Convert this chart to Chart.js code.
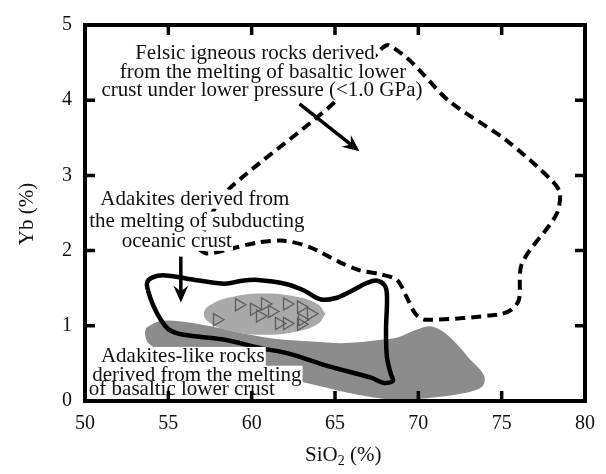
<!DOCTYPE html>
<html lang="en">
<head>
<meta charset="UTF-8">
<title>Yb vs SiO2</title>
<script src="https://cdn.jsdelivr.net/npm/chart.js"></script>
<style>
  html, body { margin: 0; padding: 0; background: #fff; }
  canvas { display: block; }
</style>
</head>
<body>
<canvas id="grafico" width="606" height="474"></canvas>
<script>
// axis ticks
const xTicks = [50, 55, 60, 65, 70, 75, 80];
const yTicks = [0, 1, 2, 3, 4, 5];

// felsic rocks from low-pressure melting of basaltic lower crust (dashed field)
const felsicX = [56.78, 57.56, 58.64, 65.06, 67.82, 68.24, 69.62, 71.84, 75.26, 78.02, 78.50, 78.26, 76.22, 76.04, 75.62, 74.84, 70.46, 69.86, 69.26, 68.72, 67.82, 66.44, 65.42, 63.44, 61.94, 60.44, 58.64, 57.38, 56.84, 56.78];
const felsicY = [2.06, 2.47, 2.82, 3.99, 4.69, 4.73, 4.50, 3.99, 3.47, 2.93, 2.76, 2.47, 1.83, 1.35, 1.22, 1.15, 1.08, 1.15, 1.40, 1.61, 1.68, 1.74, 1.83, 2.05, 2.13, 2.11, 2.02, 1.96, 2.02, 2.06];

// adakites from subducting oceanic crust (solid field)
const oceanicX = [53.78, 53.72, 54.02, 54.80, 56.60, 58.40, 59.42, 60.38, 62.00, 63.14, 64.16, 65.06, 65.96, 66.92, 67.52, 68.00, 68.12, 68.06, 68.12, 68.36, 68.48, 67.94, 67.16, 64.64, 62.24, 60.62, 58.22, 55.94, 55.04, 54.44, 54.02, 53.78];
const oceanicY = [1.47, 1.57, 1.64, 1.67, 1.61, 1.56, 1.60, 1.61, 1.56, 1.47, 1.35, 1.37, 1.46, 1.57, 1.60, 1.53, 1.38, 0.93, 0.58, 0.35, 0.27, 0.24, 0.31, 0.46, 0.63, 0.70, 0.82, 0.88, 0.95, 1.12, 1.31, 1.47];

// adakite-like rocks from basaltic lower crust (dark grey field)
const lowerX = [53.66, 54.44, 55.64, 57.62, 59.66, 61.64, 63.62, 65.66, 67.64, 68.84, 69.92, 70.82, 71.84, 73.04, 73.94, 73.82, 72.62, 70.64, 68.84, 66.44, 63.86, 61.64, 58.04, 55.04, 53.84, 53.60, 53.66];
const lowerY = [0.97, 1.06, 1.06, 0.99, 0.89, 0.82, 0.79, 0.77, 0.81, 0.85, 0.95, 0.99, 0.86, 0.57, 0.34, 0.19, 0.10, 0.04, 0.01, 0.08, 0.21, 0.32, 0.45, 0.61, 0.76, 0.89, 0.97];

// field around the samples (light grey)
const sampleFieldX = [64.43, 63.94, 62.61, 60.78, 58.95, 57.62, 57.13, 57.62, 58.95, 60.78, 62.61, 63.94, 64.43];
const sampleFieldY = [1.16, 1.29, 1.39, 1.43, 1.39, 1.29, 1.16, 1.02, 0.92, 0.88, 0.92, 1.02, 1.16];

// samples
const sampleX = [57.92, 59.24, 60.14, 60.80, 60.50, 61.22, 62.12, 62.96, 63.56, 61.64, 62.12, 62.96, 63.02];
const sampleY = [1.08, 1.28, 1.22, 1.29, 1.13, 1.19, 1.29, 1.25, 1.16, 1.03, 1.03, 1.02, 1.08];

const pts = (xs, ys) => xs.map((x, i) => ({x: x, y: ys[i]}));

const serif = '"Liberation Serif", "Times New Roman", serif';

// labels: text lines, centre x in data units, baseline y in data units
const notas = [
  {t: 'Felsic igneous rocks derived', x: 60.20, y: 4.55},
  {t: 'from the melting of basaltic lower', x: 60.68, y: 4.30},
  {t: 'crust under lower pressure (<1.0 GPa)', x: 60.62, y: 4.05},
  {t: 'Adakites derived from', x: 56.59, y: 2.61},
  {t: 'the melting of subducting', x: 56.71, y: 2.32},
  {t: 'oceanic crust', x: 55.51, y: 2.05},
  {t: 'Adakites-like rocks', x: 55.87, y: 0.52},
  {t: 'derived from the melting', x: 56.71, y: 0.27},
  {t: 'of basaltic lower crust', x: 55.81, y: 0.08}
];

// arrows: [x1, y1, x2, y2]
const setas = [
  [62.87, 3.95, 66.47, 3.32],
  [55.75, 1.92, 55.75, 1.31]
];

function seta(ctx, x1, y1, x2, y2) {
  const ang = Math.atan2(y2 - y1, x2 - x1);
  const comp = Math.hypot(x2 - x1, y2 - y1);
  ctx.save();
  ctx.translate(x2, y2);
  ctx.rotate(ang);
  ctx.strokeStyle = '#000';
  ctx.fillStyle = '#000';
  ctx.lineWidth = 3.5;
  ctx.beginPath();
  ctx.moveTo(-comp, 0);
  ctx.lineTo(-10, 0);
  ctx.stroke();
  ctx.beginPath();
  ctx.moveTo(0, 0);
  ctx.lineTo(-17, -7.5);
  ctx.lineTo(-11, 0);
  ctx.lineTo(-17, 7.5);
  ctx.closePath();
  ctx.fill();
  ctx.restore();
}

const moldura = {
  id: 'moldura',
  afterDraw(chart) {
    const ctx = chart.ctx;
    const a = chart.chartArea;
    const sx = chart.scales.x, sy = chart.scales.y;
    ctx.save();

    // text with white boxes behind each line
    ctx.font = '21px ' + serif;
    ctx.textAlign = 'center';
    ctx.textBaseline = 'alphabetic';
    notas.forEach(n => {
      const px = sx.getPixelForValue(n.x), py = sy.getPixelForValue(n.y);
      const w = ctx.measureText(n.t).width;
      ctx.fillStyle = '#fff';
      ctx.fillRect(px - w / 2 - 1, py - 15, w + 2, 19);
    });
    notas.forEach(n => {
      ctx.fillStyle = '#111';
      ctx.fillText(n.t, sx.getPixelForValue(n.x), sy.getPixelForValue(n.y));
    });

    setas.forEach(s => seta(ctx, sx.getPixelForValue(s[0]), sy.getPixelForValue(s[1]),
                                sx.getPixelForValue(s[2]), sy.getPixelForValue(s[3])));

    // frame
    ctx.strokeStyle = '#000';
    ctx.lineWidth = 4;
    ctx.strokeRect(a.left, a.top, a.right - a.left, a.bottom - a.top);

    // inward ticks on all four sides
    ctx.lineWidth = 3.5;
    ctx.beginPath();
    xTicks.slice(1, -1).forEach(v => {
      const px = sx.getPixelForValue(v);
      ctx.moveTo(px, a.bottom); ctx.lineTo(px, a.bottom - 10);
      ctx.moveTo(px, a.top); ctx.lineTo(px, a.top + 10);
    });
    yTicks.slice(1, -1).forEach(v => {
      const py = sy.getPixelForValue(v);
      ctx.moveTo(a.left, py); ctx.lineTo(a.left + 10, py);
      ctx.moveTo(a.right, py); ctx.lineTo(a.right - 10, py);
    });
    ctx.stroke();

    // axis titles
    ctx.fillStyle = '#111';
    ctx.font = '21px ' + serif;
    ctx.textAlign = 'left';
    const x0 = 305, yb = 461;
    ctx.fillText('SiO', x0, yb);
    let w = ctx.measureText('SiO').width;
    ctx.font = '14px ' + serif;
    ctx.fillText('2', x0 + w, yb + 4);
    w += ctx.measureText('2').width;
    ctx.font = '21px ' + serif;
    ctx.fillText(' (%)', x0 + w, yb);

    ctx.translate(33, 214);
    ctx.rotate(-Math.PI / 2);
    ctx.textAlign = 'center';
    ctx.fillText('Yb (%)', 0, 0);
    ctx.restore();
  }
};

const fonteEixo = {family: serif, size: 20};

new Chart(document.getElementById('grafico'), {
  type: 'scatter',
  data: {
    datasets: [
      {
        label: 'Samples',
        data: pts(sampleX, sampleY),
        pointStyle: 'triangle',
        rotation: 90,
        pointRadius: 7,
        pointBorderColor: '#5e5e5e',
        pointBackgroundColor: 'rgba(0,0,0,0)',
        pointBorderWidth: 1.3,
        order: 0
      },
      {
        label: 'Adakites (oceanic crust)',
        data: pts(oceanicX, oceanicY),
        showLine: true,
        pointRadius: 0,
        borderColor: '#000',
        borderWidth: 4.5,
        tension: 0.35,
        fill: false,
        order: 1
      },
      {
        label: 'Felsic igneous rocks',
        data: pts(felsicX, felsicY),
        showLine: true,
        pointRadius: 0,
        borderColor: '#000',
        borderWidth: 4,
        borderDash: [10, 6],
        tension: 0.3,
        fill: false,
        order: 2
      },
      {
        label: 'Sample field',
        data: pts(sampleFieldX, sampleFieldY),
        showLine: true,
        pointRadius: 0,
        borderColor: 'rgba(0,0,0,0)',
        backgroundColor: '#a9a9a9',
        tension: 0.45,
        fill: 'shape',
        order: 3
      },
      {
        label: 'Adakite-like rocks',
        data: pts(lowerX, lowerY),
        showLine: true,
        pointRadius: 0,
        borderColor: 'rgba(0,0,0,0)',
        backgroundColor: '#8c8c8c',
        tension: 0.35,
        fill: 'shape',
        order: 4
      }
    ]
  },
  options: {
    responsive: false,
    animation: false,
    layout: {padding: {top: 16, right: 20}},
    plugins: {legend: {display: false}, tooltip: {enabled: false}},
    scales: {
      x: {
        type: 'linear', min: 50, max: 80,
        afterFit: s => { s.height = 73; },
        afterBuildTicks: s => { s.ticks = xTicks.map(v => ({value: v})); },
        grid: {display: false, drawTicks: false},
        border: {display: false},
        ticks: {padding: 11, font: fonteEixo, color: '#111'}
      },
      y: {
        type: 'linear', min: 0, max: 5,
        afterFit: s => { s.width = 85; },
        afterBuildTicks: s => { s.ticks = yTicks.map(v => ({value: v})); },
        grid: {display: false, drawTicks: false},
        border: {display: false},
        ticks: {padding: 13, font: fonteEixo, color: '#111'}
      }
    }
  },
  plugins: [moldura]
});
</script>
</body>
</html>
